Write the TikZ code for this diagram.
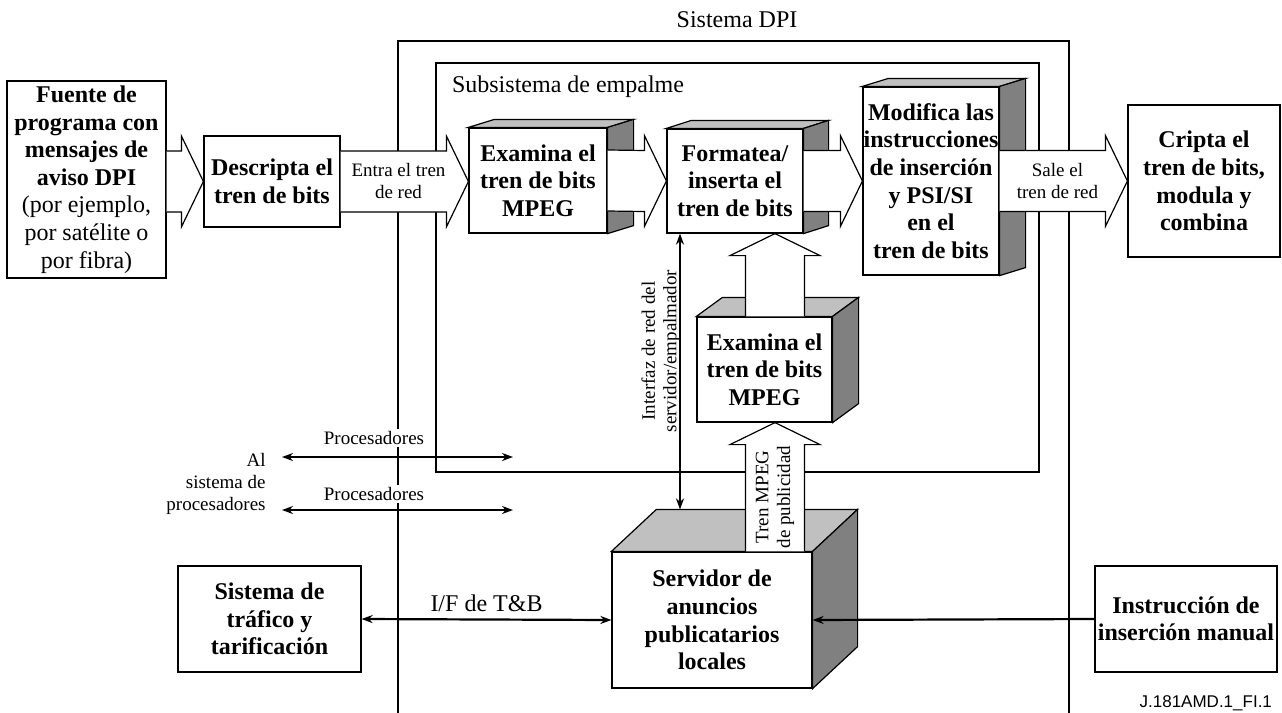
\documentclass[tikz,border=0pt]{standalone}
\usepackage{fontspec}
\setmainfont{Liberation Serif}
\newfontfamily\etiquetafont{Liberation Sans}
\usetikzlibrary{calc,arrows.meta,positioning}
\definecolor{grisclaro}{RGB}{192,192,192}
\definecolor{grisoscuro}{RGB}{128,128,128}
\tikzset{
  caja/.style={draw,line width=0.6pt,fill=white,align=center,inner sep=0pt,font=\fontsize{12}{13.8}\selectfont\bfseries},
  carasup/.style={draw,line width=0.6pt,fill=grisclaro},
  caralat/.style={draw,line width=0.6pt,fill=grisoscuro},
  hueca/.style={draw,line width=0.6pt,fill=white},
  marco/.style={line width=0.6pt},
  texto/.style={font=\fontsize{12}{13.8}\selectfont},
  chico/.style={font=\fontsize{9.5}{10.8}\selectfont,align=center,inner sep=1pt},
  enlace/.style={line width=1.1pt,-{Stealth[length=5.5pt,width=4pt]}},
  doble/.style={line width=1.1pt,{Stealth[length=5.5pt,width=4pt]}-{Stealth[length=5.5pt,width=4pt]}}
}
% cara superior y lateral de un bloque en relieve
\newcommand{\cubo}[3]{%
  \filldraw[carasup] (#1.north west) -- ++(#2,#3) -- ($(#1.north east)+(#2,#3)$) -- (#1.north east) -- cycle;
  \filldraw[caralat] (#1.north east) -- ++(#2,#3) -- ($(#1.south east)+(#2,#3)$) -- (#1.south east) -- cycle;
  \coordinate (#1 fondo) at ($(#1.north west)+(#2,#3)$);
}
% flecha hueca horizontal y vertical
\newcommand{\flechaH}[2]{%
  \draw[hueca] ($(#1)+(0,-30.5)$) -- ($(#2)+(-22,-30.5)$) -- ($(#2)+(-22,-45.5)$) -- (#2)
    -- ($(#2)+(-22,45.5)$) -- ($(#2)+(-22,30.5)$) -- ($(#1)+(0,30.5)$);
}
\newcommand{\flechaV}[2]{%
  \draw[hueca] ($(#1)+(-29.5,0)$) -- ($(#2)+(-29.5,22)$) -- ($(#2)+(-45,22)$) -- (#2)
    -- ($(#2)+(45,22)$) -- ($(#2)+(29.5,22)$) -- ($(#1)+(29.5,0)$);
}

\begin{document}
\begin{tikzpicture}[x=0.5pt,y=-0.5pt]
    \useasboundingbox (0,0) rectangle (1282,713);
    %Sistema DPI
    \draw[marco] (398,713) -- (398,41) -- (1069,41) -- (1069,713);
    \node[texto] (sistema) at (737,20) {Sistema DPI};
    %Subsistema de empalme
    \draw[marco] (436,63) rectangle (1039,472);
    \node[texto,anchor=west] (subsistema) at (445,87) {Subsistema de empalme};
    %Bloques
    \node[caja,minimum width=79.5pt,minimum height=98.5pt] (fuente) at (86.5,179.5)
        {Fuente de\\programa con\\mensajes de\\aviso DPI\\\mdseries(por ejemplo,\\\mdseries por sat\'elite o\\\mdseries por fibra)};
    \node[caja,minimum width=68pt,minimum height=45.5pt] (descripta) at (272,181.5) {Descripta el\\tren de bits};
    \node[caja,minimum width=69pt,minimum height=52.5pt] (examinaA) at (538,180.5) {Examina el\\tren de bits\\MPEG};
    \node[caja,minimum width=68pt,minimum height=52pt] (formatea) at (735,181) {Formatea/\\inserta el\\tren de bits};
    \node[caja,minimum width=68pt,minimum height=94pt] (modifica) at (931,181)
        {Modifica las\\instrucciones\\de inserci\'on\\y PSI/SI\\en el\\tren de bits};
    \node[caja,minimum width=76pt,minimum height=76pt] (cripta) at (1204,181) {Cripta el\\tren de bits,\\modula y\\combina};
    \node[caja,minimum width=67.5pt,minimum height=52.5pt] (examinaB) at (764.5,369.5) {Examina el\\tren de bits\\MPEG};
    \node[caja,minimum width=100pt,minimum height=68pt] (servidor) at (712,620) {Servidor de\\anuncios\\publicatarios\\locales};
    \node[caja,minimum width=91.5pt,minimum height=53pt] (trafico) at (269.5,619) {Sistema de\\tr\'afico y\\tarificaci\'on};
    \node[caja,minimum width=91pt,minimum height=53pt] (instruccion) at (1186,619) {Instrucci\'on de\\inserci\'on manual};
    %Relieve
    \cubo{examinaA}{26}{-8}
    \cubo{formatea}{25}{-8}
    \cubo{modifica}{26}{-8}
    \cubo{examinaB}{26}{-19}
    \cubo{servidor}{45}{-42}
    %Flechas huecas
    \coordinate (fuenteS) at (fuente.east |- descripta.west);
    \coordinate (examinaE) at (examinaA.west |- descripta.east);
    \coordinate (modificaS) at (modifica.east |- cripta.west);
    \flechaH{fuenteS}{descripta.west}
    \flechaH{descripta.east}{examinaE}
    \flechaH{examinaA.east}{formatea.west}
    \flechaH{formatea.east}{modifica.west}
    \flechaH{modificaS}{cripta.west}
    \coordinate (eje) at (775,0);
    \coordinate (mpegA) at (eje |- servidor.north);
    \coordinate (mpegB) at (eje |- examinaB.south);
    \coordinate (mpegC) at (eje |- examinaB.north);
    \coordinate (mpegD) at (eje |- formatea.south);
    \flechaV{mpegC}{mpegD}
    \flechaV{mpegA}{mpegB}
    \node[chico] (entra) at ($(descripta.east)!0.5!(examinaA.west)+(-6,0)$) {Entra el tren\\de red};
    \node[chico] (sale) at ($(modifica.east)!0.5!(cripta.west)+(-6,0)$) {Sale el\\tren de red};
    \node[chico,rotate=90] (tren) at ($(mpegA)!0.5!(mpegB)+(0,10)$) {Tren MPEG\\de publicidad};
    %Interfaz servidor/empalmador
    \coordinate (ifaz) at (680,0);
    \draw[doble] (ifaz |- formatea.south) -- (ifaz |- servidor fondo);
    \node[chico,rotate=90] (interfaz) at (661,351) {Interfaz de red del\\servidor/empalmador};
    %Procesadores
    \coordinate (procAi) at (282,457);
    \coordinate (procAd) at (513,457);
    \coordinate (procBi) at (282,510);
    \coordinate (procBd) at (513,510);
    \draw[doble] (procAi) -- (procAd);
    \draw[doble] (procBi) -- (procBd);
    \node[chico,fill=white] (procA) at (374,438) {Procesadores};
    \node[chico,fill=white] (procB) at (374,494) {Procesadores};
    \node[chico,align=right,anchor=east] (alsistema) at (268,484) {Al\\sistema de\\procesadores};
    %Conexiones inferiores
    \draw[doble] (trafico.east) -- (servidor.west) node[texto,midway,above] (iftb) {I/F de T\&B};
    \draw[enlace] (instruccion.west) -- (servidor.east);
    \node[font=\etiquetafont\fontsize{8.5}{10}\selectfont,anchor=east] (codigo) at (1279,703) {J.181AMD.1\_FI.1};
\end{tikzpicture}
\end{document}
